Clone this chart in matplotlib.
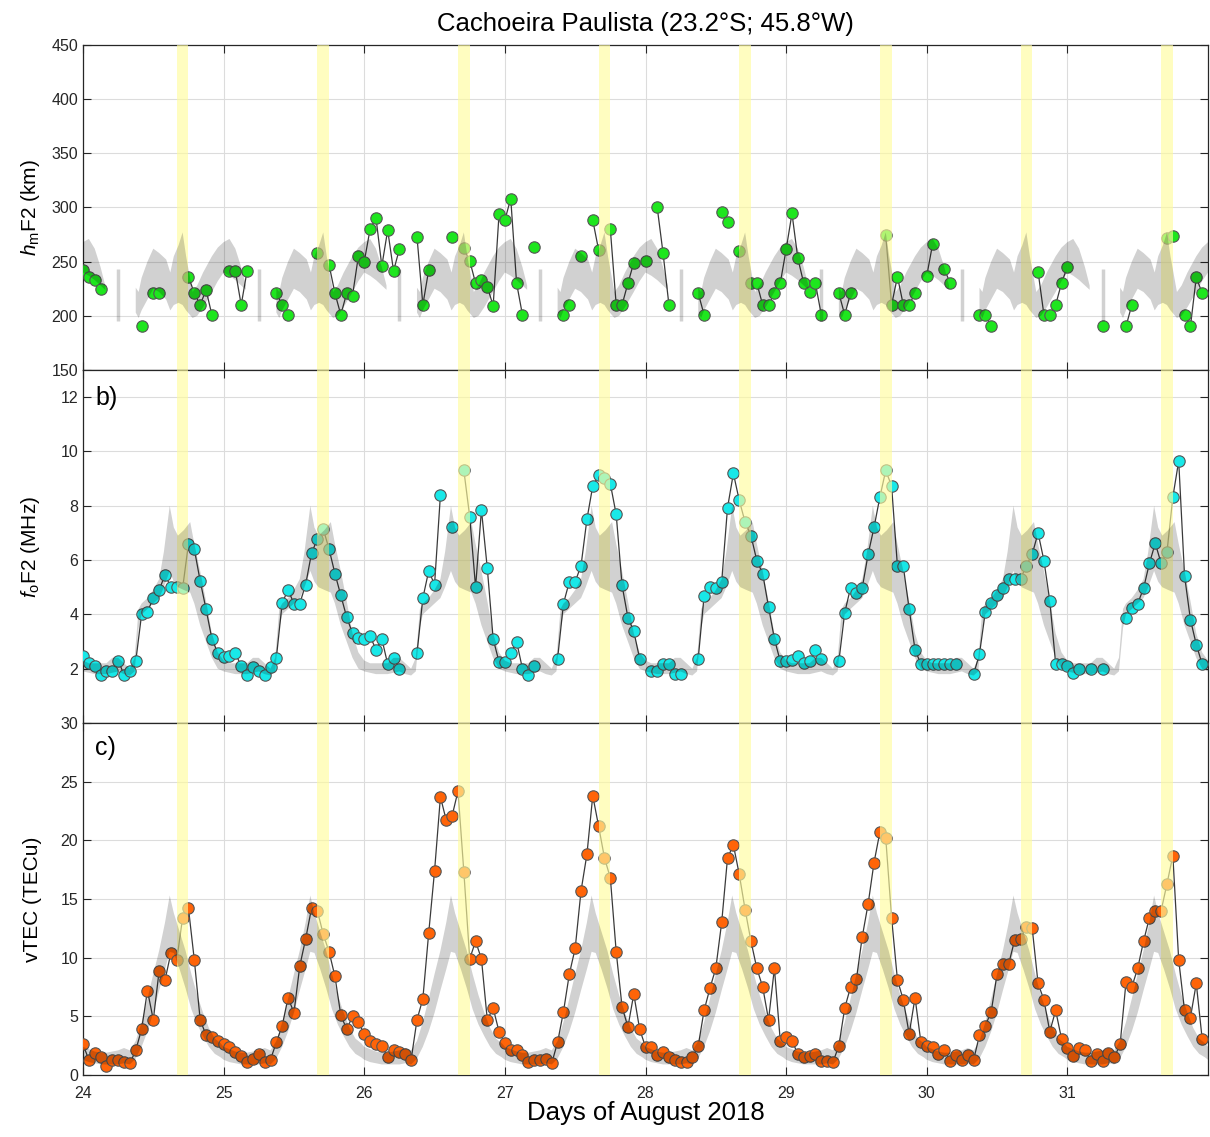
import numpy as np
import matplotlib.pyplot as plt

plt.rcParams['font.family'] = ['Liberation Sans', 'DejaVu Sans']
plt.rcParams['mathtext.fontset'] = 'custom'
plt.rcParams['mathtext.rm'] = 'Liberation Sans'
plt.rcParams['mathtext.it'] = 'Liberation Sans:italic'

'''Hourly samples, 24-31 August 2018'''
nan = np.nan
days = np.arange(24, 32)
t = 24 + np.arange(192) / 24

hmf2 = [242.3, 235.6, 233.1, 224.5, nan, nan, nan, nan, nan, nan, 190.2, nan,
        220.9, 220.9, nan, nan, nan, nan, 236.2, 220.9, 210.1, 223.9, 200.9, nan,
        nan, 241.4, 241.4, 210.1, 241.4, nan, nan, nan, nan, 220.9, 210.1, 200.9,
        nan, nan, nan, nan, 257.7, nan, 246.9, 220.9, 200.9, 220.9, 218.7, 255.2,
        250.0, 280.1, 290.5, 246.0, 279.1, 241.4, 261.7, nan, nan, 273.0, 210.1, 242.3,
        nan, nan, nan, 273.0, nan, 262.3, 250.9, 230.1, 233.1, 227.0, 209.2, 293.6,
        288.3, 308.3, 230.1, 200.9, nan, 263.2, nan, nan, nan, nan, 200.9, 210.1,
        nan, 255.2, nan, 288.3, 260.7, nan, 279.8, 210.1, 210.1, 230.1, 249.1, nan,
        250.9, nan, 300.0, 257.7, 210.1, nan, nan, nan, nan, 220.9, 200.9, nan,
        nan, 295.4, 286.8, nan, 260.1, nan, 230.7, 230.1, 210.1, 210.1, 220.9, 230.1,
        261.3, 294.5, 253.1, 230.1, 222.4, 230.1, 200.9, nan, nan, 220.9, 200.9, 220.9,
        nan, nan, nan, nan, nan, 274.5, 210.1, 236.2, 210.1, 210.1, 220.9, nan,
        236.8, 266.3, nan, 243.3, 230.1, nan, nan, nan, nan, 200.9, 200.9, 190.2,
        nan, nan, nan, nan, nan, nan, nan, 240.8, 200.9, 200.9, 210.1, 230.1,
        245.4, nan, nan, nan, nan, nan, 190.2, nan, nan, nan, 190.2, 210.1,
        nan, nan, nan, nan, nan, 271.5, 273.9, nan, 200.9, 190.2, 235.6, 220.9]

fof2 = [2.46, 2.2, 2.09, 1.78, 1.9, 1.9, 2.3, 1.78, 1.9, 2.27, 4.0, 4.1,
        4.6, 4.9, 5.46, 5.0, 5.0, 4.96, 6.6, 6.4, 5.23, 4.19, 3.1, 2.58,
        2.42, 2.46, 2.58, 2.09, 1.78, 2.05, 1.9, 1.78, 2.05, 2.4, 4.43, 4.9,
        4.4, 4.4, 5.1, 6.25, 6.78, 7.15, 6.4, 5.5, 4.7, 3.9, 3.3, 3.14,
        3.1, 3.2, 2.7, 3.1, 2.17, 2.4, 2.0, nan, nan, 2.56, 4.6, 5.6,
        5.1, 8.4, nan, 7.2, nan, 9.3, 7.6, 5.0, 7.85, 5.7, 3.1, 2.25,
        2.25, 2.58, 3.0, 2.0, 1.78, 2.09, nan, nan, nan, 2.37, 4.4, 5.2,
        5.2, 5.8, 7.5, 8.73, 9.12, 9.04, 8.81, 7.68, 5.07, 3.88, 3.38, 2.37,
        nan, 1.9, 1.9, 2.19, 2.19, 1.8, 1.8, nan, nan, 2.37, 4.68, 5.0,
        4.96, 5.2, 7.93, 9.19, 8.2, 7.4, 6.9, 5.98, 5.5, 4.27, 3.1, 2.27,
        2.27, 2.33, 2.46, 2.2, 2.27, 2.7, 2.37, nan, nan, 2.27, 4.06, 4.99,
        4.8, 4.99, 6.22, 7.2, 8.32, 9.3, 8.73, 5.77, 5.77, 4.19, 2.7, 2.17,
        2.17, 2.17, 2.17, 2.17, 2.17, 2.17, nan, nan, 1.8, 2.54, 4.1, 4.43,
        4.72, 4.96, 5.3, 5.3, 5.3, 5.8, 6.22, 7.0, 5.98, 4.5, 2.17, 2.17,
        2.09, 1.84, 2.0, nan, 2.0, nan, 2.0, nan, nan, nan, 3.88, 4.25,
        4.4, 4.96, 5.88, 6.62, 5.88, 6.3, 8.32, 9.65, 5.42, 3.81, 2.89, 2.17]

vtec = [2.6, 1.3, 1.9, 1.5, 0.8, 1.3, 1.3, 1.1, 1.0, 2.1, 3.9, 7.2,
        4.7, 8.9, 8.1, 10.4, 9.8, 13.4, 14.2, 9.8, 4.7, 3.4, 3.2, 2.9,
        2.6, 2.4, 2.0, 1.6, 1.1, 1.4, 1.8, 1.1, 1.3, 2.8, 4.2, 6.6,
        5.3, 9.3, 11.6, 14.2, 14.0, 12.0, 10.5, 8.4, 5.1, 3.9, 5.0, 4.5,
        3.5, 2.9, 2.6, 2.5, 1.5, 2.1, 2.0, 1.8, 1.3, 4.7, 6.5, 12.1,
        17.4, 23.7, 21.7, 22.1, 24.2, 17.3, 9.9, 11.4, 9.9, 4.7, 5.7, 3.7,
        2.7, 2.1, 2.1, 1.7, 1.1, 1.3, 1.3, 1.4, 1.0, 2.8, 5.4, 8.6,
        10.8, 15.7, 18.8, 23.8, 21.2, 18.5, 16.8, 10.5, 5.8, 4.1, 6.9, 3.9,
        2.4, 2.4, 1.7, 2.0, 1.5, 1.3, 1.1, 1.1, 1.5, 2.5, 5.5, 7.4,
        9.1, 13.0, 18.5, 19.6, 17.1, 14.1, 11.4, 9.1, 7.5, 4.7, 9.1, 2.9,
        3.2, 2.9, 1.8, 1.5, 1.6, 1.8, 1.2, 1.2, 1.1, 2.5, 5.7, 7.5,
        8.2, 11.8, 14.6, 18.1, 20.7, 20.2, 13.4, 8.1, 6.4, 3.5, 6.6, 2.8,
        2.5, 2.4, 1.8, 2.1, 1.2, 1.7, 1.3, 1.7, 1.3, 3.4, 4.2, 5.4,
        8.6, 9.5, 9.5, 11.5, 11.6, 12.6, 12.5, 7.8, 6.4, 3.7, 5.5, 3.1,
        2.3, 1.6, 2.3, 2.1, 1.2, 1.8, 1.2, 1.9, 1.5, 2.6, 7.9, 7.5,
        9.1, 11.4, 13.4, 14.0, 14.0, 16.3, 18.7, 9.8, 5.5, 4.9, 7.8, 3.1]

'''Quiet-time reference envelope (one day, local hours)'''
hm_ref_hr = [0, 1, 2, 3, 3.8, 6.5, 9, 9.5, 10, 11, 12, 13, 14.2, 14.9, 15.5,
             16.3, 17, 17.6, 18.7, 19.5, 20.5, 22, 23]
hm_ref_lo = [240, 237, 233, 228, 224, nan, 203, 198, 205, 215, 225, 222, 215,
             205, 210, 212, 210, 205, 198, 200, 208, 222, 232]
hm_ref_hi = [268, 271, 262, 245, 228, nan, 226, 222, 235, 250, 262, 258, 252,
             240, 255, 265, 277, 255, 222, 228, 240, 255, 263]
hm_bar_hr, hm_bar_lo, hm_bar_hi = 6.0, 195, 243

fo_ref_hr = [0, 1, 2, 3, 4, 5, 6, 7, 8, 8.8, 9.5, 10, 11, 12, 13, 13.8, 14.8,
             15.5, 16.2, 17.2, 18.3, 19, 20, 21, 22, 23]
fo_ref_lo = [1.9, 1.85, 1.8, 1.8, 1.8, 1.85, 1.9, 1.8, 1.75, 1.9, 3.5, 4.0,
             4.2, 4.4, 4.6, 5.0, 5.6, 5.2, 5.0, 4.9, 4.8, 4.4, 3.6, 3.0, 2.4, 2.0]
fo_ref_hi = [2.3, 2.2, 2.2, 2.2, 2.2, 2.4, 2.4, 2.2, 2.0, 2.4, 4.2, 4.4,
             4.6, 4.9, 5.3, 6.3, 8.0, 7.2, 6.9, 7.1, 7.4, 6.6, 5.6, 4.5, 3.3, 2.6]

tec_ref_hr = [0, 1, 2, 3, 4, 5, 6, 7, 8, 9, 10, 11, 12, 13, 14, 14.8, 15.5,
              16.5, 17.5, 18.5, 19.5, 20.5, 21.5, 22.5, 23.5]
tec_ref_lo = [1.3, 1.1, 1.0, 0.9, 0.9, 0.9, 0.9, 1.0, 0.9, 1.4, 2.4, 3.7, 5.3,
              7.2, 9.0, 10.5, 10.4, 9.0, 7.4, 5.6, 4.3, 3.3, 2.4, 1.8, 1.5]
tec_ref_hi = [2.4, 2.2, 2.0, 1.9, 1.9, 2.0, 2.1, 2.3, 2.1, 2.9, 4.5, 6.5, 8.6,
              10.6, 13.0, 15.3, 13.8, 12.2, 10.6, 8.6, 6.8, 5.3, 4.0, 3.1, 2.7]

'''Highlighted interval each day (UT hours)'''
span_start, span_end = 16, 18


def daily(hr, lo, hi):
    # repeat the one-day envelope over every day shown
    ref_days = np.arange(24, 33)
    x = np.concatenate([d + np.array(hr) / 24 for d in ref_days])
    return x, np.tile(lo, len(ref_days)), np.tile(hi, len(ref_days))


fig = plt.figure(figsize=(12.1, 11.37), dpi=100)
L, W = 83 / 1210, 1125 / 1210
ax1 = fig.add_axes([L, 1 - 370 / 1137, W, 325 / 1137])
ax2 = fig.add_axes([L, 1 - 723 / 1137, W, 353 / 1137], sharex=ax1)
ax3 = fig.add_axes([L, 1 - 1075 / 1137, W, 352 / 1137], sharex=ax1)

panels = [(ax1, hmf2, '#1ee61e', (hm_ref_hr, hm_ref_lo, hm_ref_hi), (150, 450), np.arange(150, 451, 50)),
          (ax2, fof2, '#18e8e8', (fo_ref_hr, fo_ref_lo, fo_ref_hi), (0, 13), np.arange(2, 13, 2)),
          (ax3, vtec, '#ff6408', (tec_ref_hr, tec_ref_lo, tec_ref_hi), (0, 30), np.arange(0, 31, 5))]

for ax, y, col, ref, ylim, yt in panels:
    ax.plot(t, y, '-', color='#3a3a3a', lw=0.9, marker='o', ms=8.2,
            mfc=col, mec='#555555', mew=0.8, zorder=3)
    for d in days:
        ax.axvspan(d + span_start / 24, d + span_end / 24, color=(1.0, 0.99, 0.62),
                   alpha=0.65, lw=0, zorder=4)
    rx, rlo, rhi = daily(*ref)
    ax.fill_between(rx, rlo, rhi, where=np.isfinite(rlo), color='k', alpha=0.18,
                    lw=0, zorder=5)
    ax.set_ylim(*ylim)
    ax.set_yticks(yt)
    ax.grid(True, color='#dcdcdc', lw=0.8, zorder=0)
    ax.set_axisbelow(True)
    ax.tick_params(direction='in', top=True, right=True, length=6, width=0.8,
                   labelsize=11.5, colors='#262626')
    for s in ax.spines.values():
        s.set_color('#262626')
        s.set_linewidth(0.9)

ax1.vlines(days + hm_bar_hr / 24, hm_bar_lo, hm_bar_hi, color='k', alpha=0.18,
           lw=2.5, zorder=5)

ax1.set_xlim(24, 32)
ax3.set_xticks(days)
ax3.tick_params(axis='x', pad=8)
ax1.tick_params(labelbottom=False)
ax2.tick_params(labelbottom=False)

ax1.set_title('Cachoeira Paulista (23.2°S; 45.8°W)', fontsize=18.5, pad=10)
ax1.set_ylabel(r'$h_\mathrm{m}$F2 (km)', fontsize=15)
ax2.set_ylabel(r'$f_\mathrm{o}$F2 (MHz)', fontsize=15)
ax3.set_ylabel('vTEC (TECu)', fontsize=15)
ax3.set_xlabel('Days of August 2018', fontsize=18.5, labelpad=0)
for ax in (ax1, ax2, ax3):
    ax.yaxis.set_label_coords(-0.036, 0.5)

ax2.text(0.011, 0.92, 'b)', transform=ax2.transAxes, fontsize=18, va='center')
ax3.text(0.011, 0.93, 'c)', transform=ax3.transAxes, fontsize=18, va='center')

fig.savefig('out.png', dpi=100)
